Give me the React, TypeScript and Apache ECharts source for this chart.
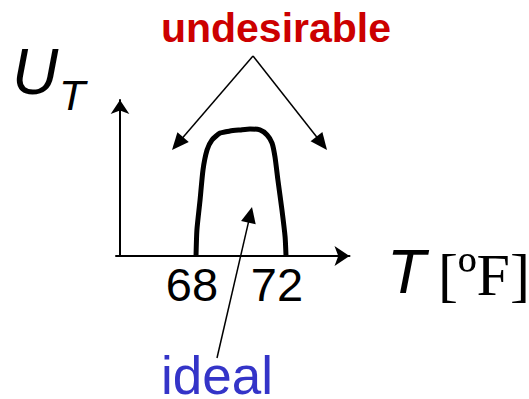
import React, { useEffect, useRef } from "react";
import * as echarts from "echarts";

// Temperature (°F) along the thermal-utility curve
const tempF = [68.0, 68.04, 68.18, 68.31, 68.49, 68.71, 69.07, 69.51, 69.96, 70.4, 70.84, 71.16, 71.38, 71.51, 71.64, 71.82, 71.96, 72.0];
// Thermal utility U_T (arbitrary units)
const utility = [0, 1.67, 3.59, 5.51, 6.79, 7.44, 7.88, 8.01, 8.08, 8.14, 8.08, 7.76, 7.24, 6.35, 4.87, 2.95, 1.22, 0];
// Tick labels on the temperature axis
const tickValues = [68, 72];

const SANS = "'Liberation Sans', Arial, sans-serif";
const SERIF = "'Liberation Serif', 'Times New Roman', serif";

function arrow(x1: number, y1: number, x2: number, y2: number, len: number, half: number, lw: number) {
  const dx = x2 - x1;
  const dy = y2 - y1;
  const d = Math.sqrt(dx * dx + dy * dy);
  const ux = dx / d;
  const uy = dy / d;
  const bx = x2 - ux * len;
  const by = y2 - uy * len;
  const px = -uy;
  const py = ux;
  return [
    { type: "line", shape: { x1, y1, x2: bx + ux * 2, y2: by + uy * 2 }, style: { stroke: "#000", lineWidth: lw } },
    {
      type: "polygon",
      shape: { points: [[x2, y2], [bx + px * half, by + py * half], [bx - px * half, by - py * half]] },
      style: { fill: "#000" },
    },
  ];
}

export default function App() {
  const ref = useRef<HTMLDivElement>(null);
  useEffect(() => {
    document.body.style.margin = "0";
    const chart = echarts.init(ref.current!, null, { renderer: "svg" });
    const data = tempF.map((t, i) => [t, utility[i]]);
    chart.setOption({
      animation: false,
      backgroundColor: "#fff",
      grid: { left: 116, right: 179.5, top: 100, bottom: 143 },
      xAxis: {
        type: "value",
        min: 64.444,
        max: 74.822,
        splitLine: { show: false },
        axisTick: { show: false },
        axisLine: {
          show: true,
          onZero: false,
          symbol: ["none", "arrow"],
          symbolSize: [15, 15],
          lineStyle: { color: "#000", width: 2 },
        },
        axisLabel: {
          show: true,
          customValues: tickValues,
          margin: 5,
          color: "#000",
          fontSize: 47,
          fontFamily: SANS,
          formatter: (v: number) => (v === tickValues[0] ? `{l|${v}}` : `{r|${v}}`),
          rich: {
            l: { fontSize: 47, fontFamily: SANS, color: "#000", padding: [0, 8, 0, 0] },
            r: { fontSize: 47, fontFamily: SANS, color: "#000", padding: [0, 18, 0, 0] },
          },
        },
      },
      yAxis: {
        type: "value",
        min: 0,
        max: 10,
        offset: -4,
        splitLine: { show: false },
        axisTick: { show: false },
        axisLabel: { show: false },
        axisLine: {
          show: true,
          onZero: false,
          symbol: ["none", "arrow"],
          symbolSize: [14, 14],
          lineStyle: { color: "#000", width: 2 },
        },
      },
      series: [
        {
          type: "line",
          data,
          smooth: 0.2,
          showSymbol: false,
          symbol: "none",
          lineStyle: { color: "#000", width: 5 },
          z: 3,
        },
      ],
      graphic: [
        { type: "text", x: 12, y: 72, style: { text: "U", fontSize: 64, fontStyle: "italic", fontFamily: SANS, fill: "#000", verticalAlign: "middle" } },
        { type: "text", x: 59, y: 94.5, style: { text: "T", fontSize: 43, fontStyle: "italic", fontFamily: SANS, fill: "#000", verticalAlign: "middle" } },
        { type: "text", x: 276, y: 27.5, style: { text: "undesirable", fontSize: 41, fontWeight: "bold", fontFamily: SANS, fill: "#cc0000", align: "center", verticalAlign: "middle" } },
        { type: "text", x: 217, y: 375, style: { text: "ideal", fontSize: 53, fontFamily: SANS, fill: "#3434c8", align: "center", verticalAlign: "middle" } },
        { type: "text", x: 387, y: 270.5, style: { text: "T", fontSize: 63, fontStyle: "italic", fontFamily: SANS, fill: "#000", verticalAlign: "middle" } },
        { type: "text", x: 438, y: 275, style: { text: "[ºF]", fontSize: 60, fontFamily: SERIF, fill: "#000", verticalAlign: "middle" } },
        ...arrow(253, 56, 172, 150, 17, 7.5, 1.5),
        ...arrow(253, 56, 327, 150, 17, 7.5, 1.5),
        ...arrow(217, 358, 252, 207, 16, 7.5, 1.5),
      ],
    });
    return () => chart.dispose();
  }, []);
  return <div ref={ref} style={{ width: 529, height: 399 }} />;
}
